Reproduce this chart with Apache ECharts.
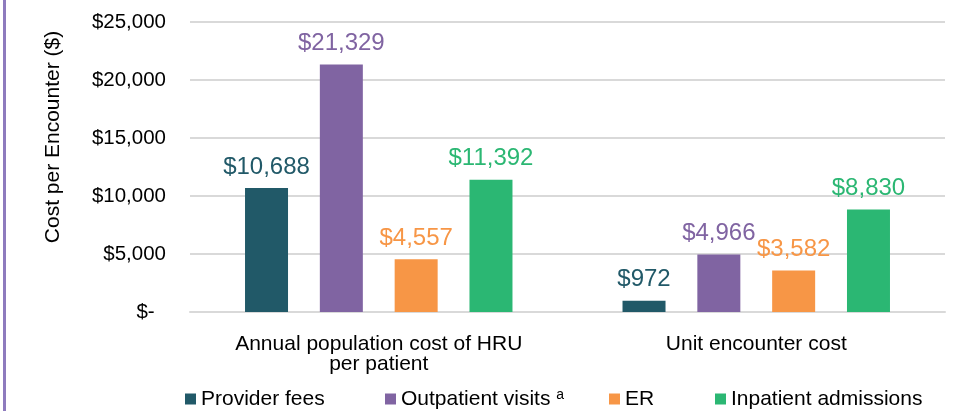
<!DOCTYPE html>
<html>
<head>
<meta charset="utf-8">
<script src="https://cdn.jsdelivr.net/npm/echarts@6/dist/echarts.min.js"></script>
<style>
html,body{margin:0;padding:0;background:#fff;}
#chart{width:959px;height:411px;}
</style>
</head>
<body>
<div id="chart"></div>
<script>
const categories = ['Annual population cost of HRU\nper patient', 'Unit encounter cost'];
const seriesNames = ['Provider fees', 'Outpatient visits', 'ER', 'Inpatient admissions'];
const providerFees = [10688, 972];
const outpatientVisits = [21329, 4966];
const erCosts = [4557, 3582];
const inpatientAdmissions = [11392, 8830];
const yTickLabels = ['$-  ', '$5,000', '$10,000', '$15,000', '$20,000', '$25,000'];
const yAxisTitle = 'Cost per Encounter ($)';
const colors = ['#215968', '#8064A2', '#F79646', '#2BB773'];
const seriesData = [providerFees, outpatientVisits, erCosts, inpatientAdmissions];

const FONT = 'Liberation Sans, Arial, sans-serif';
const chart = echarts.init(document.getElementById('chart'), null, {renderer: 'canvas'});

const legendLefts = [185, 385, 609, 715];
const legends = seriesNames.map((n, i) => ({
  data: [n],
  left: legendLefts[i],
  top: 388,
  padding: 0,
  itemWidth: 11,
  itemHeight: 11,
  icon: 'rect',
  itemGap: 0,
  textStyle: {
    fontFamily: FONT, fontSize: 21, color: '#000', lineHeight: 22,
    rich: {
      n: {fontFamily: FONT, fontSize: 21, color: '#000', lineHeight: 22},
      s: {fontFamily: FONT, fontSize: 14, color: '#000', lineHeight: 12, verticalAlign: 'top'}
    }
  },
  formatter: name => name === 'Outpatient visits' ? '{n|' + name + '} {s|a}' : name
}));

const option = {
  animation: false,
  backgroundColor: '#fff',
  graphic: [
    {type: 'rect', shape: {x: 3, y: 0, width: 3, height: 411}, style: {fill: '#8E7BBE'}},
    {type: 'text', x: 53.5, y: 137, rotation: Math.PI / 2,
     style: {text: yAxisTitle, fontFamily: FONT, fontSize: 21, fill: '#000', align: 'center', verticalAlign: 'middle'}}
  ],
  grid: {left: 190, right: 14, top: 22, bottom: 99, containLabel: false},
  legend: legends,
  xAxis: {
    type: 'category',
    data: categories,
    axisLine: {show: true, lineStyle: {color: '#d9d9d9', width: 2}},
    axisTick: {show: false},
    axisLabel: {fontFamily: FONT, fontSize: 21, color: '#000', margin: 22, lineHeight: 20, interval: 0}
  },
  yAxis: {
    type: 'value',
    min: 0, max: 25000, interval: 5000,
    axisLine: {show: false},
    axisTick: {show: false},
    splitLine: {lineStyle: {color: '#d9d9d9', width: 2}},
    axisLabel: {fontFamily: FONT, fontSize: 20.5, color: '#000', margin: 24,
      formatter: v => yTickLabels[Math.round(v / 5000)]}
  },
  series: seriesNames.map((n, i) => ({
    name: n,
    type: 'bar',
    data: seriesData[i],
    barWidth: 43,
    barGap: '74%',
    itemStyle: {color: colors[i]},
    label: {
      show: true, position: 'top', distance: 9,
      fontFamily: FONT, fontSize: 24, color: colors[i],
      formatter: p => '$' + p.value.toLocaleString('en-US')
    }
  }))
};
chart.setOption(option);
</script>
</body>
</html>
